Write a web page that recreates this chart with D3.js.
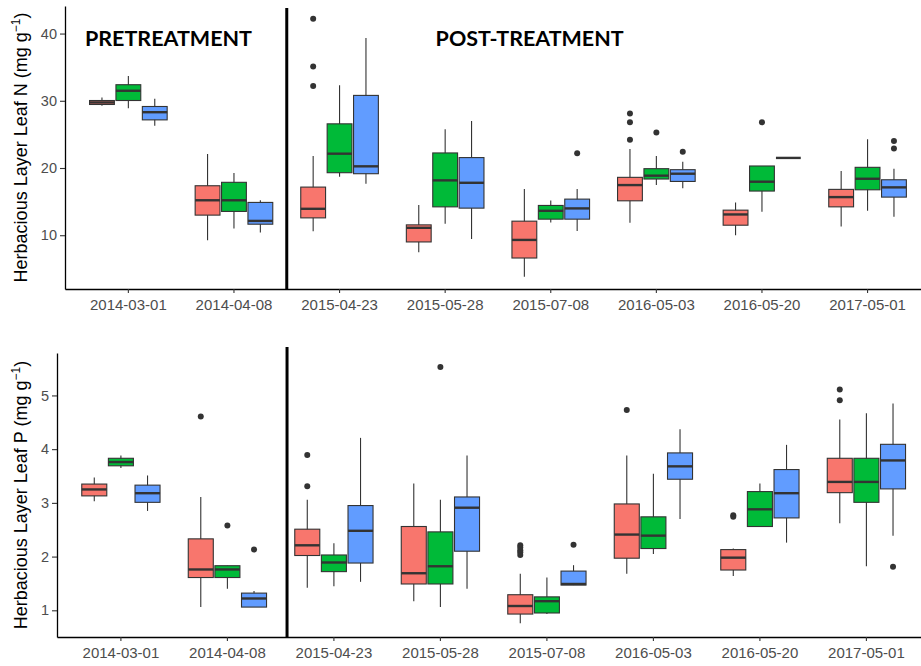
<!DOCTYPE html>
<html>
<head>
<meta charset="utf-8">
<script src="https://cdn.jsdelivr.net/npm/d3@7"></script>
<style>
  html, body { margin: 0; padding: 0; background: #ffffff; }
  svg { display: block; }
</style>
</head>
<body>
<svg id="chart" width="921" height="666"></svg>
<script>
// ---------------- DATA ----------------
const dates = ["2014-03-01","2014-04-08","2015-04-23","2015-05-28","2015-07-08","2016-05-03","2016-05-20","2017-05-01"];
const groups = ["G1","G2","G3"];
const groupColors = ["#F8766D","#00BA38","#619CFF"];

// box stats: [lower whisker, Q1, median, Q3, upper whisker]
const nRed = [[29.25,29.45,29.75,30.04,30.5],[9.25,12.99,15.2,17.36,22.1],[10.6,12.58,13.93,17.16,21.8],[7.46,9.0,11.1,11.54,14.48],[3.83,6.61,9.3,12.09,16.87],[11.84,15.12,17.46,18.61,22.84],[10.0,11.49,13.09,13.73,14.88],[11.3,14.22,15.67,16.82,19.55]];
const nGreen = [[28.9,30.04,31.49,32.39,33.7],[11.0,13.54,15.2,17.87,19.25],[18.7,19.3,22.13,26.57,32.3],[11.7,14.22,18.16,22.24,25.78],[11.9,12.39,13.63,14.43,15.18],[17.46,18.36,18.86,19.9,21.8],[13.48,16.57,17.96,20.3,20.3],[13.63,16.76,18.4,20.1,24.28]];
const nBlue = [[26.3,27.16,28.3,29.15,30.3],[10.4,11.64,12.13,14.88,15.2],[17.66,19.15,20.25,30.8,39.35],[9.45,14.03,17.8,21.55,27.0],[10.64,12.39,13.99,15.37,16.87],[16.97,18.0,19.15,19.75,20.94],[21.5,21.5,21.5,21.5,21.5],[12.73,15.67,17.12,18.25,19.9]];
const nRedOut = [[],[],[42.2,35.1,32.2],[],[],[28.1,26.8,24.2],[],[]];
const nGreenOut = [[],[],[],[],[],[25.3],[26.8],[]];
const nBlueOut = [[],[],[],[],[22.2],[22.4],[],[24.0,22.9]];

const pRed = [[3.03,3.13,3.25,3.35,3.47],[1.06,1.61,1.76,2.33,3.11],[1.42,2.02,2.21,2.51,3.06],[1.17,1.49,1.69,2.56,3.36],[0.76,0.93,1.08,1.29,1.68],[1.68,1.97,2.41,2.98,3.88],[1.64,1.75,1.98,2.13,2.15],[2.62,3.19,3.39,3.83,4.55]];
const pGreen = [[3.65,3.69,3.76,3.83,3.88],[1.40,1.61,1.76,1.83,1.83],[1.45,1.72,1.89,2.03,2.25],[1.06,1.49,1.82,2.46,3.06],[0.93,0.95,1.17,1.25,1.61],[2.05,2.15,2.39,2.74,3.54],[2.56,2.56,2.88,3.21,3.36],[1.82,3.01,3.39,3.83,4.67]];
const pBlue = [[2.85,3.01,3.18,3.33,3.51],[1.06,1.06,1.22,1.32,1.36],[1.53,1.88,2.48,2.95,4.21],[1.40,2.10,2.91,3.11,3.88],[1.47,1.47,1.49,1.73,1.84],[2.70,3.44,3.68,3.93,4.37],[2.26,2.72,3.18,3.62,4.08],[2.39,3.26,3.79,4.09,4.85]];
const pRedOut = [[],[4.61],[3.89,3.31],[],[2.21,2.17,2.12,2.08,2.03],[4.73],[2.77,2.74],[5.11,4.91]];
const pGreenOut = [[],[2.58],[],[5.53],[],[],[],[]];
const pBlueOut = [[],[2.13],[],[],[2.22],[],[],[1.81]];

const nTicks = [10,20,30,40];
const pTicks = [1,2,3,4,5];
const nTitle = "Herbacious Layer Leaf N (mg g";
const pTitle = "Herbacious Layer Leaf P (mg g";
const periodLabels = ["PRETREATMENT","POST-TREATMENT"];

// ---------------- LAYOUT ----------------
const svg = d3.select("#chart");
const panels = [
  {top:6, bottom:289, left:65, step:105.6, domain:[2.0,44.1], ticks:nTicks, title:nTitle,
   stats:[nRed,nGreen,nBlue], outs:[nRedOut,nGreenOut,nBlueOut], sep:2.5, sepExt:-2, labels:true},
  {top:353, bottom:637, left:57, step:106.5, domain:[0.503,5.79], ticks:pTicks, title:pTitle,
   stats:[pRed,pGreen,pBlue], outs:[pRedOut,pGreenOut,pBlueOut], sep:2.56, sepExt:6, labels:false}
];

const tickFont = "'Liberation Sans', Arial, sans-serif";

panels.forEach(P => {
  const g = svg.append("g");
  const x = d3.scaleBand().domain(dates)
      .range([P.left, P.left + 8.2*P.step]).paddingInner(0).paddingOuter(0.1);
  const sub = d3.scaleBand().domain(groups).range([-0.375*x.step(), 0.375*x.step()]);
  const y = d3.scaleLinear().domain(P.domain).range([P.bottom, P.top]);
  const xPos = v => x(dates[0]) + x.bandwidth()/2 + (v-1)*x.step();
  const bw = sub.bandwidth()*0.94;

  // boxes
  groups.forEach((grp, gi) => {
    const stats = P.stats[gi];
    stats.forEach((s, di) => {
      const cx = x(dates[di]) + x.bandwidth()/2 + sub(grp) + sub.bandwidth()/2;
      g.append("line").attr("x1",cx).attr("x2",cx).attr("y1",y(s[0])).attr("y2",y(s[4]))
        .attr("stroke","#333333").attr("stroke-width",1.1);
      g.append("rect").attr("x",cx-bw/2).attr("width",bw)
        .attr("y",y(s[3])).attr("height",Math.max(0,y(s[1])-y(s[3])))
        .attr("fill",groupColors[gi]).attr("stroke","#333333").attr("stroke-width",1.1);
      g.append("line").attr("x1",cx-bw/2).attr("x2",cx+bw/2).attr("y1",y(s[2])).attr("y2",y(s[2]))
        .attr("stroke","#333333").attr("stroke-width",2.4);
      P.outs[gi][di].forEach(o => {
        g.append("circle").attr("cx",cx).attr("cy",y(o)).attr("r",3).attr("fill","#333333");
      });
    });
  });

  // axes
  const ya = g.append("g").attr("transform",`translate(${P.left},0)`)
    .call(d3.axisLeft(y).tickValues(P.ticks).tickFormat(d3.format("d")).tickSize(5).tickSizeOuter(0).tickPadding(3));
  const xa = g.append("g").attr("transform",`translate(0,${P.bottom})`)
    .call(d3.axisBottom(x).tickSize(4).tickSizeOuter(0).tickPadding(6));
  [ya, xa].forEach(a => {
    a.select(".domain").attr("stroke","#000").attr("stroke-width",1.3);
    a.selectAll(".tick line").attr("stroke","#333333").attr("stroke-width",1.1);
    a.selectAll(".tick text").attr("fill","#4D4D4D").style("font-family",tickFont);
  });
  ya.selectAll(".tick text").style("font-size","14.5px");
  xa.selectAll(".tick text").style("font-size","15px");

  // separator
  g.append("line").attr("x1",xPos(P.sep)).attr("x2",xPos(P.sep))
    .attr("y1",P.top - P.sepExt).attr("y2",P.bottom)
    .attr("stroke","#000").attr("stroke-width",3);

  // y title
  const cy = (P.top+P.bottom)/2;
  const t = g.append("text").attr("transform",`translate(27,${cy}) rotate(-90)`)
    .attr("text-anchor","middle").style("font-family",tickFont).style("font-size","18px").attr("fill","#000");
  t.append("tspan").text(P.title);
  t.append("tspan").attr("dy",-7).style("font-size","12px").text("\u22121");
  t.append("tspan").attr("dy",7).text(")");

  if (P.labels) {
    const lab = [[1.38, periodLabels[0], 167],[4.80, periodLabels[1], 188]];
    lab.forEach(([v, txt, len]) => {
      g.append("text").attr("x",xPos(v)).attr("y",46).attr("text-anchor","middle")
        .attr("textLength",len).attr("lengthAdjust","spacingAndGlyphs")
        .style("font-family","Lato, 'Open Sans', sans-serif").style("font-weight","bold")
        .style("font-size","21px").attr("fill","#000").text(txt);
    });
  }
});
</script>
</body>
</html>
